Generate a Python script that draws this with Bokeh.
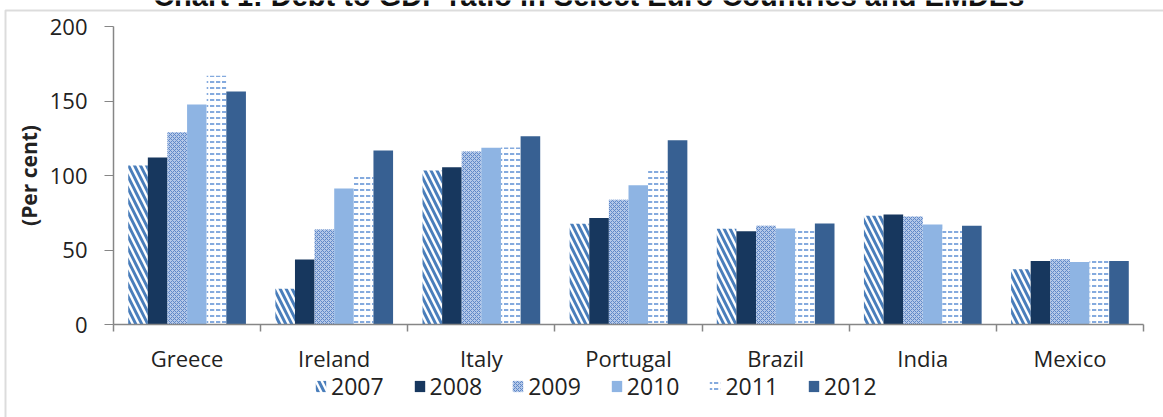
from bokeh.plotting import figure
from bokeh.models import (ColumnDataSource, FixedTicker, Range1d, Legend, LegendItem, Label,
                          BoxAnnotation)
from bokeh.embed import file_html
from bokeh.resources import INLINE

countries = ["Greece", "Ireland", "Italy", "Portugal", "Brazil", "India", "Mexico"]
years = ["2007", "2008", "2009", "2010", "2011", "2012"]

debt_2007 = [106.7, 24.0, 103.4, 67.6, 64.2, 73.0, 37.1]
debt_2008 = [112.0, 43.6, 105.6, 71.4, 62.6, 73.8, 42.7]
debt_2009 = [129.0, 63.8, 116.1, 83.7, 66.2, 72.5, 43.8]
debt_2010 = [147.6, 91.3, 118.6, 93.5, 64.4, 67.1, 42.0]
debt_2011 = [167.0, 101.6, 118.8, 105.2, 64.0, 64.0, 43.0]
debt_2012 = [156.4, 116.8, 126.4, 123.7, 67.8, 66.2, 42.7]
series = [debt_2007, debt_2008, debt_2009, debt_2010, debt_2011, debt_2012]

title_text = "Chart 1: Debt to GDP ratio in Select Euro Countries and EMDEs"
y_label = "(Per cent)"
y_ticks = [0, 50, 100, 150, 200]

styles = [
    dict(fill_color="white", hatch_pattern="\\", hatch_color="#4A7EBB", hatch_weight=3, hatch_scale=12),
    dict(fill_color="#17375E"),
    dict(fill_color="#B4C8E8", hatch_pattern="x", hatch_color="#5F88C8", hatch_weight=1, hatch_scale=4),
    dict(fill_color="#8EB4E3"),
    dict(fill_color="white", hatch_pattern='"', hatch_color="#5B8DD3", hatch_weight=1.5, hatch_scale=6),
    dict(fill_color="#376092"),
]

FONT = "Open Sans"
W, H = 1163, 417

# pixel layout of the plotting area (whole canvas is the frame)
X0_PX, X1_PX = 113, 1143          # group axis from 0 to len(countries)
Y0_PX, Y200_PX = 324, 26          # value axis 0 .. 200
PXX = (X1_PX - X0_PX) / len(countries)
PXY = (Y0_PX - Y200_PX) / 200.0

def xd(px):
    return (px - X0_PX) / PXX

def yd(px):
    return (Y0_PX - px) / PXY

p = figure(frame_width=W, frame_height=H, width=W, height=H,
           x_range=Range1d(xd(0), xd(W)), y_range=Range1d(yd(H), yd(0)),
           output_backend="svg", toolbar_location=None,
           min_border_left=0, min_border_right=0, min_border_top=0, min_border_bottom=0)
p.outline_line_color = None
p.grid.visible = False
p.background_fill_color = "white"
p.border_fill_color = "white"

n = len(years)
bw = 0.8 / n
centers = [i + 0.5 for i in range(len(countries))]
items = []
for k, (yr, vals) in enumerate(zip(years, series)):
    xs = [c + (k - (n - 1) / 2) * bw for c in centers]
    src = ColumnDataSource(dict(x=xs, top=vals))
    r = p.vbar(x="x", top="top", width=bw, bottom=0, source=src, line_color=None, **styles[k])
    items.append(LegendItem(label=yr, renderers=[r]))

# y axis at group position 0
ya = p.yaxis[0]
ya.fixed_location = 0
ya.ticker = FixedTicker(ticks=y_ticks)
ya.bounds = (y_ticks[0], y_ticks[-1])
ya.axis_line_color = "#868686"
ya.axis_line_width = 1.5
ya.major_tick_line_color = "#868686"
ya.major_tick_out = 9
ya.major_tick_in = 0
ya.minor_tick_line_color = None
ya.major_label_text_font = FONT
ya.major_label_text_font_size = "22px"
ya.major_label_text_color = "#222222"
ya.major_label_standoff = 17
ya.axis_label = y_label
ya.axis_label_text_font = FONT
ya.axis_label_text_font_style = "bold"
ya.axis_label_text_font_size = "21px"
ya.axis_label_text_color = "#222222"
ya.axis_label_standoff = 4

# x axis at value 0: labels at group centres, ticks at group boundaries
xa = p.xaxis[0]
xa.fixed_location = 0
xa.bounds = (0, len(countries))
xa.ticker = FixedTicker(ticks=centers, minor_ticks=list(range(len(countries) + 1)))
xa.major_label_overrides = {c: name for c, name in zip(centers, countries)}
xa.axis_line_color = "#868686"
xa.axis_line_width = 1.5
xa.major_tick_line_color = None
xa.minor_tick_line_color = "#868686"
xa.minor_tick_line_width = 1.5
xa.minor_tick_out = 7
xa.minor_tick_in = 0
xa.major_label_text_font = FONT
xa.major_label_text_font_size = "22px"
xa.major_label_text_color = "#222222"
xa.major_label_standoff = 11

legend = Legend(items=items, orientation="horizontal", location=(314, 15),
                label_text_font=FONT, label_text_font_size="23px", label_text_color="#222222",
                glyph_width=13, glyph_height=14, label_standoff=4, spacing=29,
                padding=0, margin=0, border_line_alpha=0, background_fill_alpha=0,
                label_height=22)
p.add_layout(legend, "center")

# gray left/top border of the original chart box
p.add_layout(BoxAnnotation(left=xd(5), right=xd(W + 20), top=yd(10), bottom=yd(H + 20),
                           fill_alpha=0, line_color="#8C8C8C", line_width=2))

# title of the original chart, cropped at the top edge as in the source image
p.add_layout(Label(x=xd((150 + 1027) / 2), y=yd(-5),
                   text=title_text, text_align="center", text_baseline="alphabetic",
                   text_font="Liberation Sans", text_font_style="bold",
                   text_font_size="29px", text_color="#111111"))

open("out.html", "w").write(file_html(p, INLINE))
